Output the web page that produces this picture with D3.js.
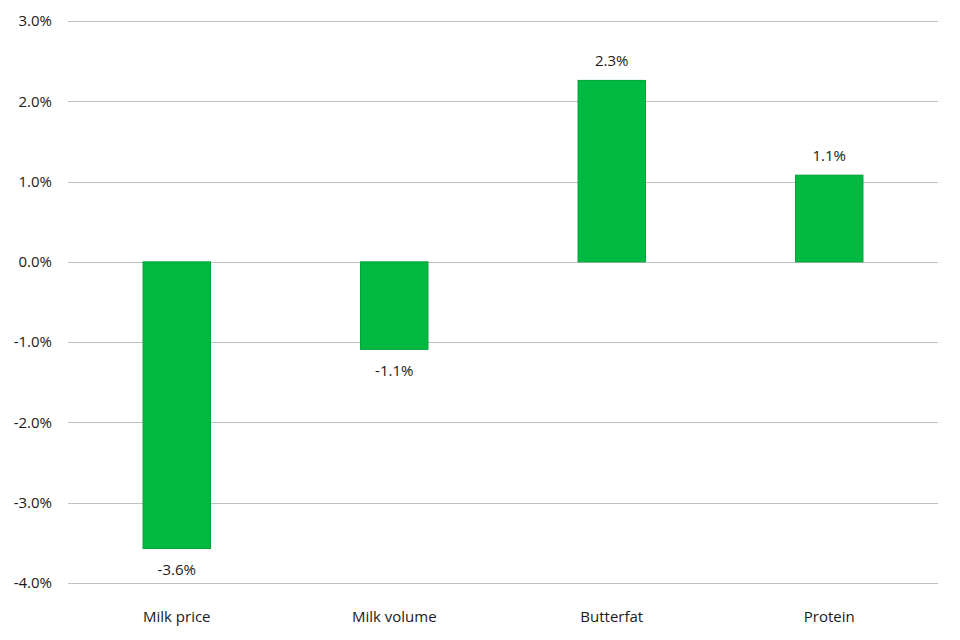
<!DOCTYPE html>
<html>
<head>
<meta charset="utf-8">
<script src="https://cdn.jsdelivr.net/npm/d3@7"></script>
<style>
  body { margin: 0; background: #fff; }
  text { font-family: "Open Sans", "Noto Sans", sans-serif; fill: #1a1a1a; }
</style>
</head>
<body>
<div id="chart"></div>
<script>
// 数据
var categories = ['Milk price', 'Milk volume', 'Butterfat', 'Protein']
var changes = [-0.0357, -0.0109, 0.0226, 0.0108]
var yTicks = [0.03, 0.02, 0.01, 0, -0.01, -0.02, -0.03, -0.04]

var width = 960
var height = 640
var padding = {top: 21, left: 68, right: 22, bottom: 57}

var svg = d3.select('#chart').append('svg')
  .attr('width', width)
  .attr('height', height)

var x = d3.scaleBand()
  .domain(categories)
  .range([padding.left, width - padding.right])
  .paddingInner(0.69)
  .paddingOuter(0.345)

var y = d3.scaleLinear()
  .domain([-0.04, 0.03])
  .range([height - padding.bottom, padding.top])

// 用普通连字符作负号
var locale = d3.formatLocale({decimal: '.', thousands: ',', grouping: [3], currency: ['', ''], minus: '-'})
var fmt = locale.format('.1%')

// 网格线
svg.append('g')
  .selectAll('line')
  .data(yTicks)
  .enter()
  .append('line')
  .attr('x1', padding.left)
  .attr('x2', width - padding.right)
  .attr('y1', function (d) { return Math.round(y(d)) + 0.5 })
  .attr('y2', function (d) { return Math.round(y(d)) + 0.5 })
  .attr('stroke', '#bfbfbf')
  .attr('stroke-width', 1)

// y轴
var yAxis = svg.append('g')
  .attr('transform', 'translate(' + padding.left + ',0)')
  .call(d3.axisLeft(y).tickValues(yTicks).tickFormat(fmt).tickSize(0).tickPadding(16))
yAxis.select('.domain').remove()
yAxis.selectAll('text').attr('font-size', '15px').style('font-family', '"Open Sans", "Noto Sans", sans-serif').attr('fill', '#1a1a1a')

// x轴标签
var xAxis = svg.append('g')
  .attr('transform', 'translate(0,' + (height - padding.bottom) + ')')
  .call(d3.axisBottom(x).tickSize(0).tickPadding(28))
xAxis.select('.domain').remove()
xAxis.selectAll('text').attr('font-size', '15px').style('font-family', '"Open Sans", "Noto Sans", sans-serif').attr('fill', '#1a1a1a')

// 柱子
svg.selectAll('rect.bar')
  .data(changes)
  .enter()
  .append('rect')
  .attr('class', 'bar')
  .attr('fill', '#00b940')
  .attr('stroke', '#00a33a')
  .attr('stroke-width', 1)
  .attr('x', function (d, i) { return x(categories[i]) })
  .attr('y', function (d) { return Math.min(y(d), y(0)) })
  .attr('width', x.bandwidth())
  .attr('height', function (d) { return Math.abs(y(d) - y(0)) })

// 数值标签
svg.selectAll('text.mark')
  .data(changes)
  .enter()
  .append('text')
  .attr('class', 'mark')
  .attr('x', function (d, i) { return x(categories[i]) + x.bandwidth() / 2 })
  .attr('y', function (d) { return d >= 0 ? y(d) - 14 : y(d) + 27 })
  .attr('text-anchor', 'middle')
  .attr('font-size', '15px')
  .text(function (d) { return fmt(d) })
</script>
</body>
</html>
